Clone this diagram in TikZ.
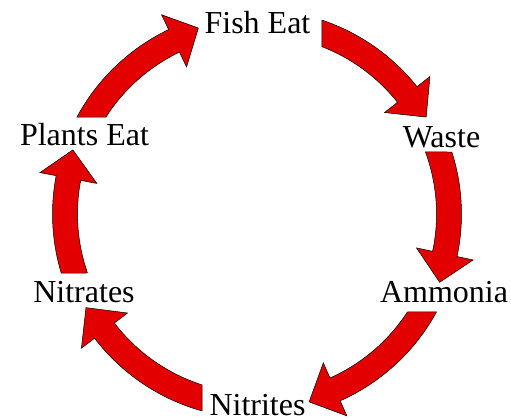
\documentclass[tikz,border=0pt]{standalone}
\usepackage{fontspec}
\setmainfont{Liberation Serif}
\usepackage{tikz}
\definecolor{cyclered}{RGB}{226,0,0}

% block arrow on the ring: outer tail angle, inner tail angle, head base angle, tip angle
\newcommand{\cyclearrow}[4]{%
  \draw[flow] (#1:204.5) arc[start angle=#1, end angle=#3, radius=204.5]
    -- (#3:221) -- (#4:195) -- (#3:163) -- (#3:179.5)
    arc[start angle=#3, end angle=#2, radius=179.5] -- cycle;}

\begin{document}
\begin{tikzpicture}[x=1pt, y=1pt,
    flow/.style={fill=cyclered, draw=black, line width=0.5pt, line join=miter},
    stage/.style={anchor=base, inner sep=0pt, font=\fontsize{32}{36}\selectfont}]
    \useasboundingbox (-257,-204) rectangle (254,214);
    % stages
    \node[stage] (fish) at (0.5,180) {Fish Eat};
    \node[stage] (waste) at (184.5,67) {Waste};
    \node[stage] (ammonia) at (187,-88) {Ammonia};
    \node[stage] (nitrites) at (0.5,-201) {Nitrites};
    \node[stage] (nitrates) at (-173,-88) {Nitrates};
    \node[stage] (plants) at (-172.5,69) {Plants Eat};
    % arrows, clockwise
    \cyclearrow{71.47}{68.77}{38.5}{29.8}
    \cyclearrow{17.65}{20.21}{-12}{-20.5}
    \cyclearrow{-28.63}{-33.09}{-66}{-74.5}
    \cyclearrow{-105.6}{-107.84}{-142.6}{-151.3}
    \cyclearrow{-163.23}{-160.81}{-190.8}{-199.2}
    \cyclearrow{151.69}{147.29}{115.6}{107.5}
\end{tikzpicture}
\end{document}
